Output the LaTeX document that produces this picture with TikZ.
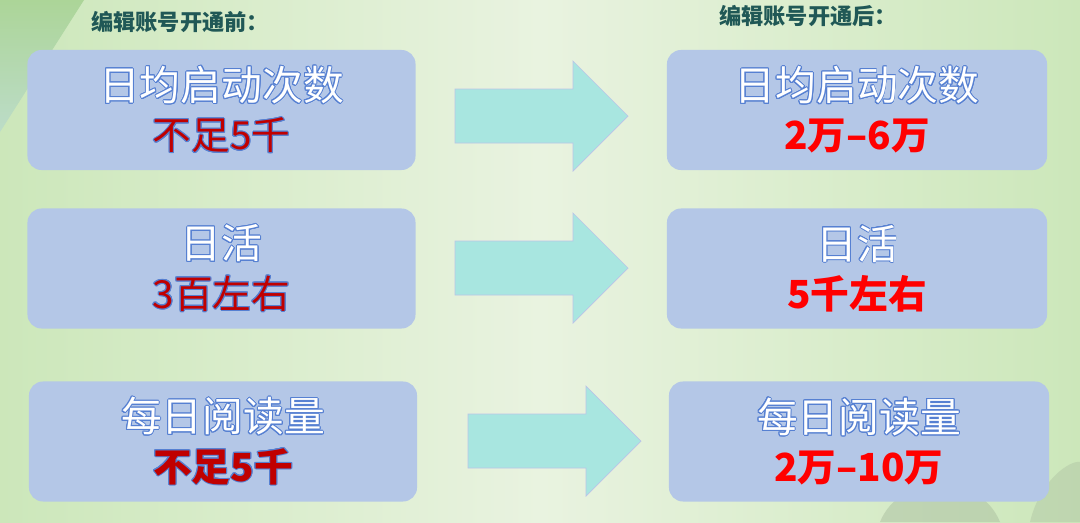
\documentclass[tikz,border=0pt]{standalone}
\usepackage{fontspec}
\setmainfont{Noto Sans CJK SC}
\usepackage[copies]{contour}
\contourlength{0.7pt}
\usetikzlibrary{positioning}
\definecolor{bgside}{RGB}{204,231,186}
\definecolor{bgmid}{RGB}{233,243,224}
\definecolor{bgcorner}{RGB}{172,213,152}
\definecolor{bgcornerlow}{RGB}{188,220,200}
\definecolor{boxblue}{RGB}{180,199,231}
\definecolor{arrowcyan}{RGB}{168,230,224}
\definecolor{arrowedge}{RGB}{186,196,232}
\definecolor{titleteal}{RGB}{32,88,86}
\definecolor{glowblue}{RGB}{86,128,210}
\definecolor{darkred}{RGB}{192,0,0}
\definecolor{brightred}{RGB}{255,0,0}
\definecolor{hillgrey}{RGB}{170,190,160}
\tikzset{
  statbox/.style={rectangle, rounded corners=10pt, fill=boxblue, draw=none,
                  minimum height=3.0cm, inner sep=0pt, align=center,
                  font=\fontsize{29}{35}\selectfont},
  leftbox/.style ={statbox, minimum width=9.7cm},
  rightbox/.style={statbox, minimum width=9.5cm},
  blockarr/.style={fill=arrowcyan, draw=arrowedge, line width=0.5pt, line join=miter},
  headline/.style={font=\fontsize{15.8}{18}\selectfont\bfseries, text=titleteal, inner sep=0pt},
}
\newcommand{\metric}[1]{\textcolor{white}{\contour{glowblue}{#1}}}
\newcommand{\oldval}[1]{\fontsize{27.5}{35}\selectfont\textcolor{darkred}{\contour{glowblue}{#1}}}
\newcommand{\newval}[1]{\fontsize{27.5}{35}\selectfont\textcolor{brightred}{\bfseries #1}}
\begin{document}
\begin{tikzpicture}[x=0.025cm, y=-0.025cm]
\useasboundingbox (0,0) rectangle (1080,522);
% background
\shade[left color=bgside, right color=bgside, middle color=bgmid] (0,0) rectangle (1080,522);
\shade[top color=bgcorner, bottom color=bgcornerlow] (0,0) -- (84,0) -- (0,132) -- cycle;
\fill[hillgrey, opacity=0.5] (880,522) .. controls (900,472) and (980,472) .. (1000,522) -- cycle;
\fill[hillgrey, opacity=0.4] (1030,522) .. controls (1040,480) and (1070,460) .. (1080,462) -- (1080,522) -- cycle;
% titles
\node[headline] (before) at (180,22) {编辑账号开通前：};
\node[headline] (after)  at (808,16) {编辑账号开通后：};
% boxes, before
\node[leftbox] (startold) at (221.5,110)   {\metric{日均启动次数}\\\oldval{不足5千}};
\node[leftbox] (dauold)   at (221.5,268.5) {\metric{日活}\\\oldval{3百左右}};
\node[leftbox] (readold)  at (223,441.5)   {\metric{每日阅读量}\\\oldval{\bfseries 不足5千}};
% boxes, after
\node[rightbox] (startnew) at (857,110)   {\metric{日均启动次数}\\\newval{2万–6万}};
\node[rightbox] (daunew)   at (857,268.5) {\metric{日活}\\\newval{5千左右}};
\node[rightbox] (readnew)  at (859,441.5) {\metric{每日阅读量}\\\newval{2万–10万}};
% block arrows
\foreach \n/\x/\y in {1/455/116, 2/455/268, 3/468/441} {
  \coordinate (arr\n) at (\x,\y);
  \draw[blockarr] (arr\n) ++(0,-27) -- ++(118,0) -- ++(0,-28) -- ++(55,55)
        -- ++(-55,55) -- ++(0,-28) -- ++(-118,0) -- cycle;
}
\end{tikzpicture}
\end{document}
